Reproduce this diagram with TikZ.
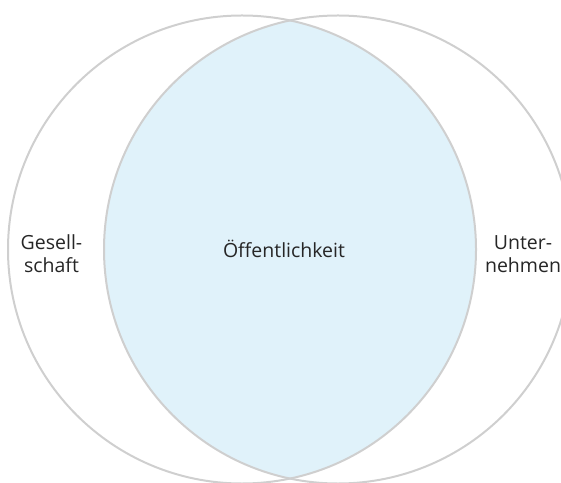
\documentclass[tikz,border=0pt]{standalone}
\usepackage{fontspec}
\setmainfont{Open Sans}
\definecolor{ringgray}{HTML}{CFCFCF}
\definecolor{lensblue}{HTML}{E0F2FA}
\tikzset{
  ring/.style={draw=ringgray, line width=2pt},
  lbl/.style={font=\fontsize{19.5}{23}\selectfont, text=black!85, align=center, inner sep=0pt, anchor=base}
}
\begin{document}
\begin{tikzpicture}[x=1pt,y=1pt]
\useasboundingbox (0,0) rectangle (561,482);
\coordinate (cl) at (242,232.5);
\coordinate (cr) at (338,232.5);
\begin{scope}
  \clip (cl) circle (234);
  \fill[lensblue] (cr) circle (234);
\end{scope}
\draw[ring] (cl) circle (234);
\draw[ring] (cr) circle (234);
\node[lbl] (ges) at (51.5,209.7) {Gesell-\\schaft};
\node[lbl] (unt) at (523,209.7) {Unter-\\nehmen};
\node[lbl] (oef) at (284,224.7) {Öffentlichkeit};
\end{tikzpicture}
\end{document}
